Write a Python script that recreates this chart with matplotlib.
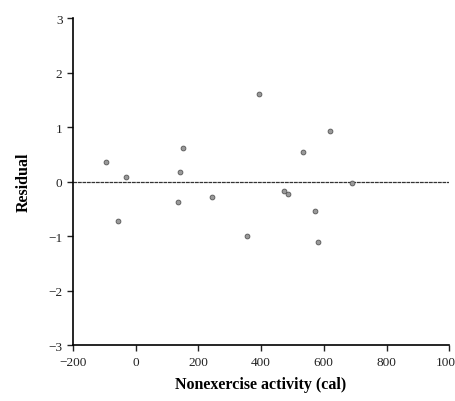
import numpy as np
import matplotlib.pyplot as plt

# nonexercise activity (cal) and residuals
nea = [-94, -57, -29, 135, 143, 151, 245, 355, 392, 473, 486, 535, 571, 580, 620, 690]
resid = [0.36, -0.72, 0.08, -0.37, 0.18, 0.62, -0.28, -1.00, 1.61, -0.17, -0.23, 0.54, -0.53, -1.11, 0.92, -0.02]

xticks = [-200, 0, 200, 400, 600, 800, 1000]
yticks = [-3, -2, -1, 0, 1, 2, 3]

plt.rcParams['font.family'] = ['Liberation Serif', 'DejaVu Serif']

fig = plt.figure(figsize=(4.55, 4.02), dpi=100)
ax = fig.add_axes([0.16, 0.139, 0.8275, 0.8134])

ax.axhline(0, color='#333333', lw=0.9, ls=(0, (3, 0.6)))
ax.scatter(nea, resid, s=12, color='#999999', edgecolors='#555555', linewidths=0.6, zorder=3)

ax.set_xlim(-200, 1000)
ax.set_ylim(-3, 3)
ax.set_xticks(xticks)
ax.set_yticks(yticks)
ax.spines['top'].set_visible(False)
ax.spines['right'].set_visible(False)
ax.spines['left'].set_linewidth(1.2)
ax.spines['bottom'].set_linewidth(1.2)
ax.tick_params(direction='out', length=4, width=1, labelsize=9.5, colors='#222222')
ax.set_xlabel('Nonexercise activity (cal)', fontsize=11.5, fontweight='bold', labelpad=6)
ax.set_ylabel('Residual', fontsize=11.5, fontweight='bold', labelpad=12)

fig.savefig('out.png', dpi=100)
